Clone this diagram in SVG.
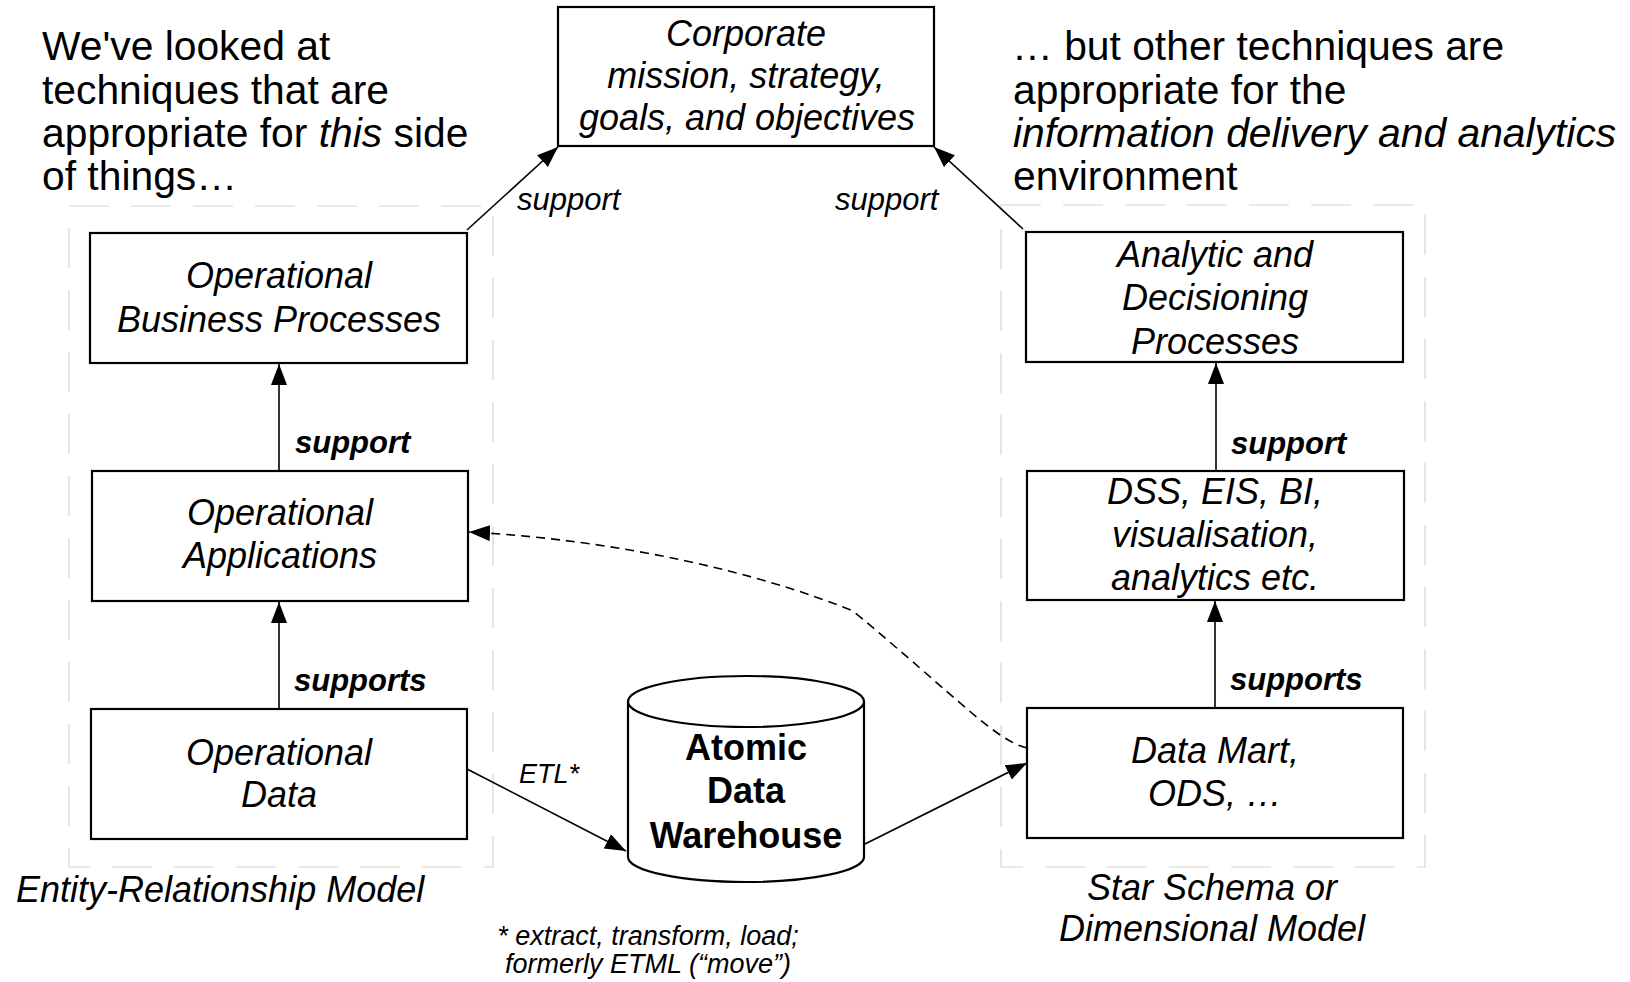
<svg xmlns="http://www.w3.org/2000/svg" width="1630" height="982" viewBox="0 0 1630 982">
<style>
text{font-family:"Liberation Sans",Arial,sans-serif;fill:#000}
.big{font-size:40.8px}
.box{fill:#fff;stroke:#000;stroke-width:2.2}
.bt{font-size:36px;font-style:italic;text-anchor:middle}
.dw{font-size:36px;font-weight:bold;text-anchor:middle}
.lab{font-size:31px;font-style:italic}
.blab{font-size:31px;font-style:italic;font-weight:bold}
.cap{font-size:36px;font-style:italic}
.small{font-size:27px;font-style:italic}
.frame{fill:none;stroke:#d4d4d4;stroke-width:1.2;stroke-dasharray:40 22}
.con{fill:none;stroke:#000;stroke-width:1.6}
.dash{fill:none;stroke:#000;stroke-width:1.6;stroke-dasharray:9 6}
</style>
<defs>
<marker id="ah" markerUnits="userSpaceOnUse" markerWidth="22" markerHeight="18" viewBox="0 0 22 18" refX="21" refY="8" orient="auto">
<path d="M0,0 L21,8 L0,16 z" fill="#000"/>
</marker>
</defs>

<g id="frames">
<rect class="frame" x="69" y="206" width="424" height="661"/>
<rect class="frame" x="1001" y="205" width="424" height="662"/>
</g>

<g id="text-left">
<text class="big" x="42" y="60">We've looked at</text>
<text class="big" x="42" y="103.5">techniques that are</text>
<text class="big" x="42" y="147">appropriate for <tspan font-style="italic">this</tspan> side</text>
<text class="big" x="42" y="190">of things…</text>
</g>

<g id="text-right">
<text class="big" x="1012" y="60">… but other techniques are</text>
<text class="big" x="1013" y="103.5">appropriate for the</text>
<text class="big" x="1013" y="147" font-style="italic">information delivery and analytics</text>
<text class="big" x="1013" y="190">environment</text>
</g>

<g id="corporate">
<rect class="box" x="558" y="7" width="376" height="139"/>
<text class="bt" x="746" y="46">Corporate</text>
<text class="bt" x="746" y="88">mission, strategy,</text>
<text class="bt" x="747" y="130">goals, and objectives</text>
</g>

<g id="obp">
<rect class="box" x="90" y="233" width="377" height="130"/>
<text class="bt" x="279" y="288">Operational</text>
<text class="bt" x="279" y="331.5">Business Processes</text>
</g>

<g id="oa">
<rect class="box" x="92" y="471" width="376" height="130"/>
<text class="bt" x="280" y="525">Operational</text>
<text class="bt" x="280" y="568">Applications</text>
</g>

<g id="od">
<rect class="box" x="91" y="709" width="376" height="130"/>
<text class="bt" x="279" y="765">Operational</text>
<text class="bt" x="279" y="807">Data</text>
</g>

<g id="adp">
<rect class="box" x="1026" y="232" width="377" height="130"/>
<text class="bt" x="1215" y="266.5">Analytic and</text>
<text class="bt" x="1215" y="309.5">Decisioning</text>
<text class="bt" x="1215" y="353.5">Processes</text>
</g>

<g id="dss">
<rect class="box" x="1027" y="471" width="377" height="129"/>
<text class="bt" x="1215" y="504">DSS, EIS, BI,</text>
<text class="bt" x="1215" y="547">visualisation,</text>
<text class="bt" x="1215" y="590">analytics etc.</text>
</g>

<g id="dm">
<rect class="box" x="1027" y="708" width="376" height="130"/>
<text class="bt" x="1215" y="763">Data Mart,</text>
<text class="bt" x="1215" y="806">ODS, …</text>
</g>

<g id="adw">
<path class="box" d="M628,701.5 L628,857 A118,25 0 0 0 864,857 L864,701.5 A118,25.5 0 0 0 628,701.5 A118,25.5 0 0 0 864,701.5"/>
<text class="dw" x="746" y="760">Atomic</text>
<text class="dw" x="746" y="803">Data</text>
<text class="dw" x="746" y="848">Warehouse</text>
</g>

<g id="connectors">
<line class="con" x1="279" y1="709" x2="279" y2="602" marker-end="url(#ah)"/>
<line class="con" x1="279" y1="471" x2="279" y2="364" marker-end="url(#ah)"/>
<line class="con" x1="467" y1="230" x2="558" y2="147" marker-end="url(#ah)"/>
<line class="con" x1="1023" y1="229" x2="934" y2="147" marker-end="url(#ah)"/>
<line class="con" x1="1216" y1="471" x2="1216" y2="363" marker-end="url(#ah)"/>
<line class="con" x1="1215" y1="708" x2="1215" y2="601" marker-end="url(#ah)"/>
<line class="con" x1="467" y1="769" x2="626" y2="851" marker-end="url(#ah)"/>
<line class="con" x1="865" y1="844" x2="1027" y2="763" marker-end="url(#ah)"/>
<path class="dash" d="M1027,748 C995,740 960,700 853,611 C760,573 620,540 469,532" marker-end="url(#ah)"/>
</g>

<g id="labels">
<text class="lab" x="517" y="210">support</text>
<text class="lab" x="835" y="210">support</text>
<text class="blab" x="295" y="453">support</text>
<text class="blab" x="294" y="691">supports</text>
<text class="blab" x="1231" y="454">support</text>
<text class="blab" x="1230" y="690">supports</text>
<text class="small" x="519" y="783">ETL*</text>
<text class="small" x="648" y="945" text-anchor="middle">* extract, transform, load;</text>
<text class="small" x="648" y="973" text-anchor="middle">formerly ETML (“move”)</text>
<text class="cap" x="16" y="902">Entity-Relationship Model</text>
<text class="cap" x="1212" y="900" text-anchor="middle">Star Schema or</text>
<text class="cap" x="1212" y="941" text-anchor="middle">Dimensional Model</text>
</g>
</svg>
